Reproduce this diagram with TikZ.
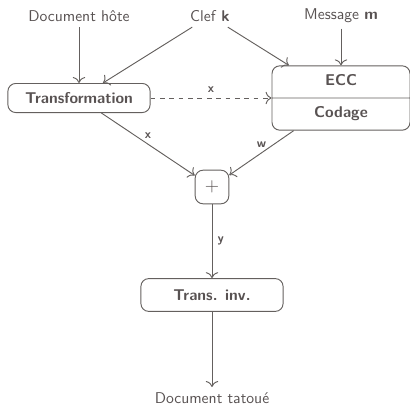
\documentclass[tikz,border=0pt]{standalone}
\usepackage{fontspec}
\usepackage{xcolor}
\usepackage{tikz}
\usetikzlibrary{shapes.multipart, arrows.meta, positioning, calc}
\renewcommand{\familydefault}{\sfdefault}
\definecolor{txtgray}{RGB}{88,82,82}
\definecolor{linegray}{RGB}{100,96,94}
\tikzstyle{block} = [rectangle, draw=linegray, line width=0.6pt, rounded corners=5pt, minimum width=91pt, minimum height=18.6pt, font=\bfseries, text=txtgray]
\tikzstyle{twopart} = [rectangle split, rectangle split parts=2, draw=linegray, line width=0.6pt, rounded corners=5pt, minimum width=88.3pt, inner ysep=4pt, font=\bfseries, text=txtgray]
\tikzstyle{plusbox} = [rectangle, draw=linegray, line width=0.6pt, rounded corners=5pt, minimum size=21.5pt, text=txtgray]
\tikzstyle{plain} = [text=txtgray]
\tikzstyle{arrow} = [draw=linegray, line width=0.6pt, -{To[scale=1.3]}]
\tikzstyle{lbl} = [font=\footnotesize\bfseries, text=txtgray]

\begin{document}
\begin{tikzpicture}[x=0.64pt, y=-0.64pt]
  \useasboundingbox (0,0) rectangle (410,406);
  % inputs
  \node[plain] (hote) at (79,16) {Document hôte};
  \node[plain] (clef) at (210,16) {Clef \textbf{k}};
  \node[plain] (msg) at (341,16) {Message \textbf{m}};
  % blocks
  \node[block] (transf) at (79,98) {Transformation};
  \node[twopart] (ecc) at (341,98) {ECC\strut \nodepart{two} Codage\strut};
  \node[plusbox] (plus) at (212,187) {\large$+$};
  \node[block, minimum height=21pt] (inv) at (212,295) {Trans. inv.};
  \node[plain] (tatoue) at (212,398) {Document tatoué};
  % connectors
  \draw[arrow] (hote) -- (transf);
  \draw[arrow] (clef) -- (transf);
  \draw[arrow] (clef) -- (ecc);
  \draw[arrow] (msg) -- (ecc);
  \draw[arrow, dashed] (transf) -- node[lbl, above] {x} (ecc);
  \draw[arrow] (transf) -- node[lbl, above] {x} (plus);
  \draw[arrow] (ecc) -- node[lbl, above] {w} (plus);
  \draw[arrow] (plus) -- node[lbl, right] {y} (inv);
  \draw[arrow] (inv) -- (tatoue);
\end{tikzpicture}
\end{document}
